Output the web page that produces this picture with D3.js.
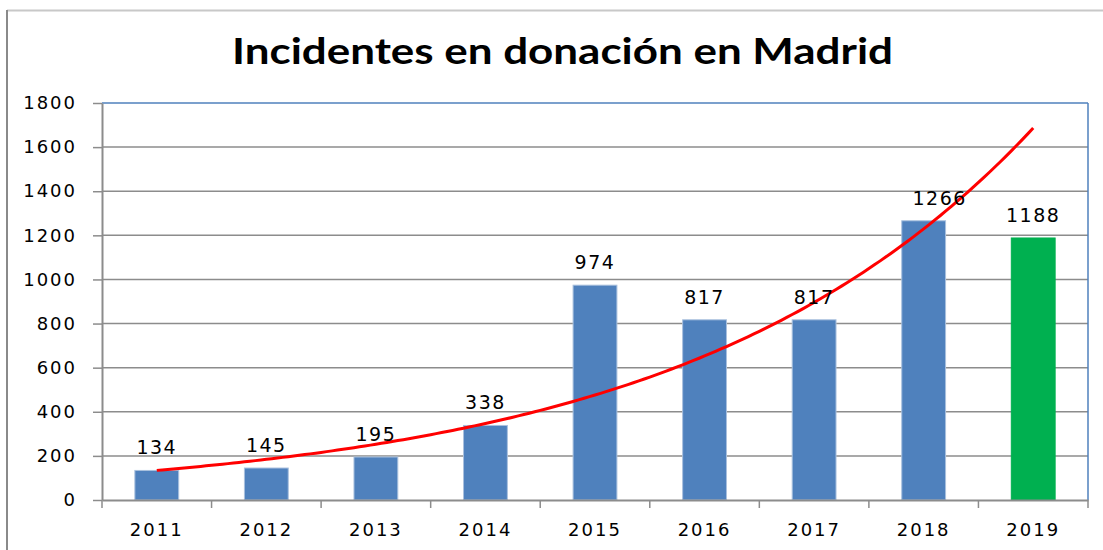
<!DOCTYPE html>
<html>
<head>
<meta charset="utf-8">
<script src="https://cdn.jsdelivr.net/npm/d3@7"></script>
<style>
  html, body { margin: 0; padding: 0; background: #fff; }
  svg { display: block; }
</style>
</head>
<body>
<svg id="chart" width="1103" height="550"></svg>
<script>
// Incidents per year
const years = ["2011", "2012", "2013", "2014", "2015", "2016", "2017", "2018", "2019"];
const incidents = [134, 145, 195, 338, 974, 817, 817, 1266, 1188];
const yTicks = [0, 200, 400, 600, 800, 1000, 1200, 1400, 1600, 1800];
const highlightYear = "2019";

const W = 1103, H = 550;
const plot = { left: 102, right: 1088, top: 103, bottom: 500 };
const svg = d3.select("#chart");
const labelFont = "'DejaVu Sans', Verdana, sans-serif";

// Outer frame
svg.append("line").attr("x1", 7).attr("x2", W).attr("y1", 10.5).attr("y2", 10.5)
  .attr("stroke", "#c8c8c8").attr("stroke-width", 2);
svg.append("line").attr("x1", 7).attr("x2", 7).attr("y1", 10).attr("y2", H)
  .attr("stroke", "#8a8a8a").attr("stroke-width", 2);

// Title
svg.append("text")
  .attr("x", 232).attr("y", 64)
  .attr("textLength", 661).attr("lengthAdjust", "spacingAndGlyphs")
  .style("font-family", "Lato, 'Open Sans', sans-serif")
  .style("font-weight", "bold")
  .style("font-size", "37px")
  .attr("fill", "#000")
  .text("Incidentes en donación en Madrid");

const x = d3.scaleBand().domain(years).range([plot.left, plot.right]).paddingInner(0.6).paddingOuter(0.3);
const xCat = d3.scaleBand().domain(years).range([plot.left, plot.right]);
const y = d3.scaleLinear().domain([0, 1800]).range([plot.bottom, plot.top]);

// Horizontal gridlines
svg.append("g").selectAll("line").data(yTicks.filter(d => d > 0 && d < 1800)).join("line")
  .attr("x1", plot.left).attr("x2", plot.right)
  .attr("y1", d => y(d)).attr("y2", d => y(d))
  .attr("stroke", "#8c8c8c").attr("stroke-width", 1.5);

// Plot area border (top and right)
svg.append("line").attr("x1", plot.left).attr("x2", plot.right).attr("y1", plot.top).attr("y2", plot.top)
  .attr("stroke", "#4f81bd").attr("stroke-width", 1.5);
svg.append("line").attr("x1", plot.right).attr("x2", plot.right).attr("y1", plot.top).attr("y2", plot.bottom)
  .attr("stroke", "#4f81bd").attr("stroke-width", 1.5);

// Y axis
const yAxis = svg.append("g")
  .attr("transform", `translate(${plot.left},0)`)
  .call(d3.axisLeft(y).tickValues(yTicks).tickFormat(d3.format("d")).tickSize(9).tickPadding(16).tickSizeOuter(0));
yAxis.select(".domain").attr("stroke", "#8c8c8c").attr("stroke-width", 2);
yAxis.selectAll(".tick line").attr("stroke", "#8c8c8c").attr("stroke-width", 1.5);
yAxis.selectAll(".tick text")
  .style("font-family", labelFont).style("font-size", "18px").style("letter-spacing", "2px")
  .attr("fill", "#000");

// Bars
svg.append("g").selectAll("rect").data(years).join("rect")
  .attr("x", d => x(d))
  .attr("width", x.bandwidth())
  .attr("y", (d, i) => y(incidents[i]))
  .attr("height", (d, i) => y(0) - y(incidents[i]))
  .attr("fill", d => d === highlightYear ? "#00b050" : "#4f81bd")
  .attr("stroke", d => d === highlightYear ? "#00b050" : "#a9c0de")
  .attr("stroke-width", 1);

// X axis
const xAxis = svg.append("g")
  .attr("transform", `translate(0,${plot.bottom})`)
  .call(d3.axisBottom(xCat).tickSize(0).tickPadding(23));
xAxis.select(".domain").attr("stroke", "#8c8c8c").attr("stroke-width", 2);
xAxis.selectAll(".tick text")
  .style("font-family", labelFont).style("font-size", "18px").style("letter-spacing", "2px")
  .attr("fill", "#000");
// category boundary tick marks
svg.append("g").selectAll("line").data(years.concat(["end"])).join("line")
  .attr("x1", (d, i) => i < years.length ? xCat(d) : plot.right)
  .attr("x2", (d, i) => i < years.length ? xCat(d) : plot.right)
  .attr("y1", plot.bottom).attr("y2", plot.bottom + 8)
  .attr("stroke", "#8c8c8c").attr("stroke-width", 1.5);

// Exponential trendline fitted by least squares on ln(value)
const n = incidents.length;
const xs = incidents.map((_, i) => i + 1);
const ls = incidents.map(v => Math.log(v));
const mx = d3.mean(xs), ml = d3.mean(ls);
const b = d3.sum(xs, (xv, i) => (xv - mx) * (ls[i] - ml)) / d3.sum(xs, xv => (xv - mx) ** 2);
const a = Math.exp(ml - b * mx);
const trendScale = d3.scaleLinear().domain([1, n]).range([xCat(years[0]) + xCat.bandwidth() / 2, xCat(years[n - 1]) + xCat.bandwidth() / 2]);
const trendPts = d3.range(1, n + 0.001, 0.05).map(t => [trendScale(t), y(a * Math.exp(b * t))]);
svg.append("path")
  .attr("d", d3.line()(trendPts))
  .attr("fill", "none").attr("stroke", "#ff0000").attr("stroke-width", 3);

// Value labels (the 2018 label sits a little to the right of its bar)
svg.append("g").selectAll("text").data(years).join("text")
  .attr("x", d => x(d) + x.bandwidth() / 2 + (d === "2018" ? 16 : 0))
  .attr("y", (d, i) => y(incidents[i]) - 16)
  .attr("text-anchor", "middle")
  .style("font-family", labelFont).style("font-size", "19px").style("letter-spacing", "1.5px")
  .attr("fill", "#000")
  .text((d, i) => incidents[i]);
</script>
</body>
</html>
